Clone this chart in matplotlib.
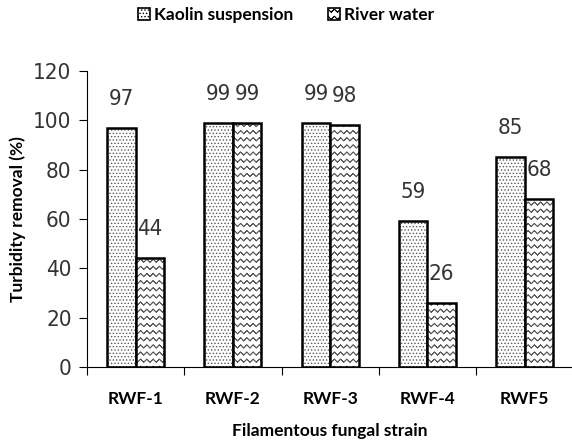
import numpy as np
import matplotlib
matplotlib.use("Agg")
import matplotlib.pyplot as plt
import matplotlib.hatch as mhatch
from matplotlib.path import Path
from matplotlib.patches import Patch
from matplotlib import font_manager

# ---- data ----
categories = ["RWF-1", "RWF-2", "RWF-3", "RWF-4", "RWF5"]
kaolin = [97, 99, 99, 59, 85]
river = [44, 99, 98, 26, 68]
series_names = ["Kaolin suspension", "River water"]
yticks = [0, 20, 40, 60, 80, 100, 120]


# ---- custom zigzag hatch (drawn as zero-area out-and-back polylines) ----
class ZigZagHatch(mhatch.HatchPatternBase):
    def __init__(self, hatch, density):
        n = hatch.count('z')
        self.num_rows = int(n * 7)
        self.num_periods = int(n * 8)
        self.pts = 2 * self.num_periods + 1
        self.per_row = 2 * self.pts
        self.num_vertices = self.num_rows * self.per_row

    def set_vertices_and_codes(self, vertices, codes):
        if self.num_rows == 0:
            return
        step = 1.0 / self.num_rows
        amp = step * 0.22
        xs = np.linspace(0.0, 1.0, self.pts)
        offs = np.where(np.arange(self.pts) % 2 == 0, -amp, amp)
        for r in range(self.num_rows):
            y0 = (r + 0.5) * step
            fx = np.concatenate([xs, xs[::-1]])
            fy = np.concatenate([y0 + offs, (y0 + offs)[::-1]])
            sl = slice(r * self.per_row, (r + 1) * self.per_row)
            vertices[sl, 0] = fx
            vertices[sl, 1] = fy
            codes[sl] = Path.LINETO
            codes[r * self.per_row] = Path.MOVETO


mhatch._hatch_types.append(ZigZagHatch)
mhatch._validate_hatch_pattern = lambda h: None

plt.rcParams['hatch.linewidth'] = 0.6

# narrow font for numbers
num_fp = font_manager.FontProperties(family='DejaVu Sans', stretch='condensed', size=16)

fig = plt.figure(figsize=(5.72, 4.46), dpi=100)
ax = fig.add_axes([0.152, 0.177, 0.8505, 0.664])

x = np.arange(len(categories))
w = 0.293
b1 = ax.bar(x - w / 2, kaolin, w, color='white', edgecolor='black', linewidth=1.8,
            hatch='.....', label=series_names[0])
b2 = ax.bar(x + w / 2, river, w, color='white', edgecolor='black', linewidth=1.8,
            hatch='zz', label=series_names[1])
for bars in (b1, b2):
    for p in bars:
        p._hatch_color = (0.35, 0.35, 0.35, 1.0)

for xi, v in zip(x - w / 2, kaolin):
    ax.annotate(str(v), (xi, v), xytext=(0, 21), textcoords='offset points',
                ha='center', va='center', fontproperties=num_fp, color='#333333')
for xi, v in zip(x + w / 2, river):
    ax.annotate(str(v), (xi, v), xytext=(0, 21), textcoords='offset points',
                ha='center', va='center', fontproperties=num_fp, color='#333333')

ax.set_xlim(-0.5, len(categories) - 0.5)
ax.set_ylim(0, 120)
ax.set_yticks(yticks)
ax.set_yticklabels([str(t) for t in yticks], fontproperties=num_fp, color='#333333')
ax.set_xticks(np.arange(len(categories) + 1) - 0.5)
ax.set_xticklabels([''] * (len(categories) + 1))
ax.set_xticks(x, minor=True)
ax.set_xticklabels(categories, minor=True, fontfamily=['Lato', 'DejaVu Sans'],
                   fontweight='bold', fontsize=12.5)
ax.tick_params(axis='x', which='minor', length=0, pad=17)
ax.tick_params(axis='x', which='major', length=6, direction='out', width=0.8)
ax.tick_params(axis='y', length=6, direction='out', width=0.8, pad=5)

for s in ['top', 'right']:
    ax.spines[s].set_visible(False)
for s in ['left', 'bottom']:
    ax.spines[s].set_linewidth(0.8)

ax.set_ylabel("Turbidity removal (%)", fontfamily=['Lato', 'DejaVu Sans'],
              fontweight='bold', fontsize=12.5)
ax.yaxis.set_label_coords(-0.125, 0.5)
ax.set_xlabel("Filamentous fungal strain", fontfamily=['Lato', 'DejaVu Sans'],
              fontweight='bold', fontsize=12.5)
ax.xaxis.set_label_coords(0.5, -0.19)

handles = [Patch(facecolor='white', edgecolor='black', hatch='.....', linewidth=1.2),
           Patch(facecolor='white', edgecolor='black', hatch='zz', linewidth=1.2)]
fig.legend(handles, series_names, loc='center', bbox_to_anchor=(0.5, 0.966), ncol=2,
           frameon=False, prop=dict(family=['Lato', 'DejaVu Sans'], weight='bold', size=12.5),
           handlelength=0.7, handleheight=0.7, handletextpad=0.2, columnspacing=2.0)

fig.savefig("out.png", dpi=100)
